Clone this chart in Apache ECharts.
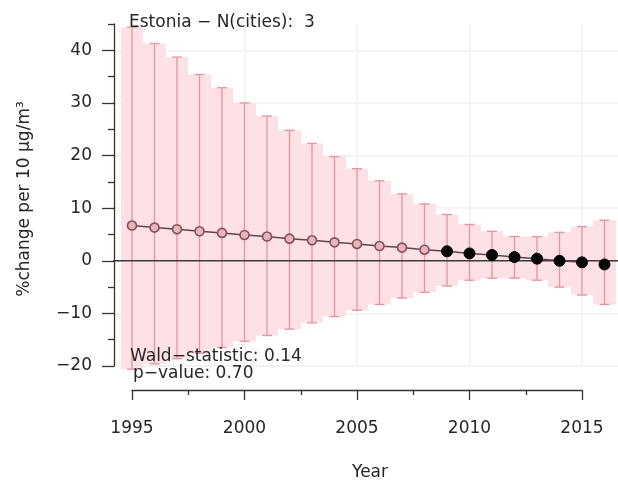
<!DOCTYPE html>
<html>
<head>
<meta charset="utf-8">
<script src="https://cdn.jsdelivr.net/npm/echarts@6/dist/echarts.min.js"></script>
<style>
  html, body { margin: 0; padding: 0; background: #ffffff; }
  #chart { width: 618px; height: 482px; }
</style>
</head>
<body>
<div id="chart"></div>
<script>
// Yearly effect estimates (% change per 10 µg/m³) with 95% confidence limits
const years = [1995, 1996, 1997, 1998, 1999, 2000, 2001, 2002, 2003, 2004, 2005,
               2006, 2007, 2008, 2009, 2010, 2011, 2012, 2013, 2014, 2015, 2016];
const estimate = [6.7, 6.3, 6.0, 5.6, 5.3, 4.9, 4.6, 4.2, 3.9, 3.5, 3.2,
                  2.8, 2.5, 2.1, 1.8, 1.4, 1.1, 0.7, 0.4, 0.0, -0.3, -0.7];
const upper = [44.4, 41.3, 38.7, 35.4, 32.9, 30.0, 27.5, 24.8, 22.3, 19.8, 17.5,
               15.2, 12.7, 10.8, 8.8, 6.9, 5.6, 4.6, 4.6, 5.4, 6.5, 7.7];
const lower = [-20.6, -19.6, -18.6, -17.6, -16.5, -15.3, -14.2, -13.0, -11.8, -10.6, -9.4,
               -8.3, -7.1, -6.0, -4.8, -3.7, -3.3, -3.3, -3.7, -5.0, -6.5, -8.3];
// Years drawn with a filled black marker
const significant = [false, false, false, false, false, false, false, false, false, false, false,
                     false, false, false, true, true, true, true, true, true, true, true];

const xTickMin = 1995, xTickMax = 2015, xTickStep = 5;
const yMin = -20, yMax = 45;
const yMajorTicks = [-20, -10, 0, 10, 20, 30, 40];
const yMinorTicks = [-15, -5, 5, 15, 25, 35, 45];

const titleText = 'Estonia \u2212 N(cities):  3';
const waldText = 'Wald\u2212statistic: 0.14';
const pText = 'p\u2212value: 0.70';
const yTitle = '%change per 10 \u03bcg/m\u00b3';
const xTitle = 'Year';

// Plot region extends 4% beyond the data range on each side
const span = years[years.length - 1] - years[0];
const xLo = years[0] - 0.04 * span;
const xHi = years[years.length - 1] + 0.04 * span;

// Axis box (tick range) and the wider plot region derived from it
const GRID_LEFT = 132, GRID_WIDTH = 450, GRID_TOP = 24, GRID_HEIGHT = 342;
const pxPerYear = GRID_WIDTH / (xTickMax - xTickMin);
const REGION_LEFT = GRID_LEFT - (xTickMin - xLo) * pxPerYear;
const REGION_WIDTH = (xHi - xLo) * pxPerYear;

const FONT = 'DejaVu Sans, Verdana, sans-serif';
const FS = 17;
const TEXT = '#262626';
const AXIS = '#333333';
const GRIDLINE = '#f3f3f3';

const rows = years.map((y, i) => [y, lower[i], upper[i]]);
const minus = v => String(v).replace('-', '\u2212');
const plainText = (text, left, top, extra) => Object.assign({
  text, left, top, padding: 0,
  textStyle: { fontSize: FS, fontWeight: 'normal', color: TEXT, fontFamily: FONT }
}, extra || {});

const chart = echarts.init(document.getElementById('chart'), null, { renderer: 'canvas' });

chart.setOption({
  animation: false,
  backgroundColor: '#ffffff',
  textStyle: { fontFamily: FONT },
  title: [
    plainText(titleText, 129, 14),
    plainText(waldText, 130, 348),
    plainText(pText, 133, 365),
    plainText(xTitle, 370, 464, { textAlign: 'center' })
  ],
  graphic: [{
    type: 'text',
    x: 25, y: 199,
    rotation: Math.PI / 2,
    style: {
      text: yTitle,
      font: FS + 'px ' + FONT,
      fill: TEXT,
      align: 'center',
      verticalAlign: 'middle'
    }
  }],
  grid: [
    { left: GRID_LEFT, width: GRID_WIDTH, top: GRID_TOP, height: GRID_HEIGHT, containLabel: false },
    { left: REGION_LEFT, width: REGION_WIDTH, top: GRID_TOP, height: GRID_HEIGHT, containLabel: false }
  ],
  xAxis: [
    {
      type: 'value', gridIndex: 0,
      min: xTickMin, max: xTickMax, interval: xTickStep,
      offset: 24,
      axisLine: { show: true, onZero: false, lineStyle: { color: AXIS, width: 1.3 } },
      axisTick: { show: true, length: 10, lineStyle: { color: AXIS, width: 1.3 } },
      minorTick: { show: true, splitNumber: 2, length: 5, lineStyle: { color: AXIS, width: 1.3 } },
      axisLabel: { margin: 30, fontSize: FS, color: TEXT, fontFamily: FONT, formatter: v => String(v) },
      splitLine: { show: true, lineStyle: { color: GRIDLINE, width: 2 } }
    },
    {
      // full plot region, used for the zero reference line
      type: 'value', gridIndex: 1,
      min: xLo, max: xHi, show: false
    }
  ],
  yAxis: [
    {
      type: 'value', gridIndex: 0,
      position: 'left',
      min: yMin, max: yMax,
      offset: 18,
      axisLine: { show: true, onZero: false, lineStyle: { color: AXIS, width: 1.3 } },
      axisTick: { show: true, length: 12, customValues: yMajorTicks, lineStyle: { color: AXIS, width: 1.3 } },
      axisLabel: { show: true, margin: 22, customValues: yMajorTicks, formatter: minus,
                   fontSize: FS, color: TEXT, fontFamily: FONT },
      splitLine: { show: false }
    },
    {
      type: 'value', gridIndex: 0,
      position: 'left',
      min: yMin, max: yMax,
      offset: 18,
      axisLine: { show: false, onZero: false },
      axisTick: { show: true, length: 6, customValues: yMinorTicks, lineStyle: { color: AXIS, width: 1.3 } },
      axisLabel: { show: false },
      splitLine: { show: false }
    },
    {
      type: 'value', gridIndex: 1,
      min: yMin, max: yMax, interval: 10,
      axisLine: { show: false }, axisTick: { show: false }, axisLabel: { show: false },
      splitLine: { show: true, showMaxLine: false, lineStyle: { color: GRIDLINE, width: 2 } }
    }
  ],
  series: [
    {
      // reference line at zero across the plot region
      type: 'line',
      name: 'zero',
      xAxisIndex: 1, yAxisIndex: 2,
      z: 3,
      symbol: 'none',
      data: [[xLo, 0], [xHi, 0]],
      lineStyle: { color: '#3a3a3a', width: 1.5 },
      silent: true
    },
    {
      // shaded confidence band, one block per year
      type: 'custom',
      name: 'band',
      clip: false,
      z: 1,
      data: rows,
      encode: { x: 0, y: [1, 2] },
      renderItem: (params, api) => {
        const yr = api.value(0);
        const a = api.coord([yr - 0.5, api.value(2)]);
        const b = api.coord([yr + 0.5, api.value(1)]);
        const x0 = Math.round(a[0]), x1 = Math.round(b[0]);
        return {
          type: 'rect',
          shape: { x: x0, y: a[1], width: x1 - x0, height: b[1] - a[1] },
          style: { fill: '#fde1e4' }
        };
      }
    },
    {
      // confidence interval whiskers
      type: 'custom',
      name: 'whiskers',
      clip: false,
      z: 2,
      data: rows,
      encode: { x: 0, y: [1, 2] },
      renderItem: (params, api) => {
        const yr = api.value(0);
        const top = api.coord([yr, api.value(2)]);
        const bot = api.coord([yr, api.value(1)]);
        const cap = 5;
        const st = { stroke: '#e597a4', lineWidth: 1.4 };
        return {
          type: 'group',
          children: [
            { type: 'line', shape: { x1: top[0], y1: top[1], x2: bot[0], y2: bot[1] }, style: st },
            { type: 'line', shape: { x1: top[0] - cap, y1: top[1], x2: top[0] + cap, y2: top[1] }, style: st },
            { type: 'line', shape: { x1: bot[0] - cap, y1: bot[1], x2: bot[0] + cap, y2: bot[1] }, style: st }
          ]
        };
      }
    },
    {
      type: 'line',
      name: 'trend',
      clip: false,
      z: 4,
      symbol: 'none',
      data: years.map((y, i) => [y, estimate[i]]),
      lineStyle: { color: '#5e464f', width: 1.5 }
    },
    {
      type: 'scatter',
      name: 'estimate',
      clip: false,
      z: 5,
      data: years.map((y, i) => ({
        value: [y, estimate[i]],
        symbolSize: significant[i] ? 11 : 9,
        itemStyle: significant[i]
          ? { color: '#050505', borderColor: '#050505', borderWidth: 1, opacity: 1 }
          : { color: '#e9b5bd', borderColor: '#85505d', borderWidth: 1.6, opacity: 1 }
      }))
    }
  ]
});
</script>
</body>
</html>
